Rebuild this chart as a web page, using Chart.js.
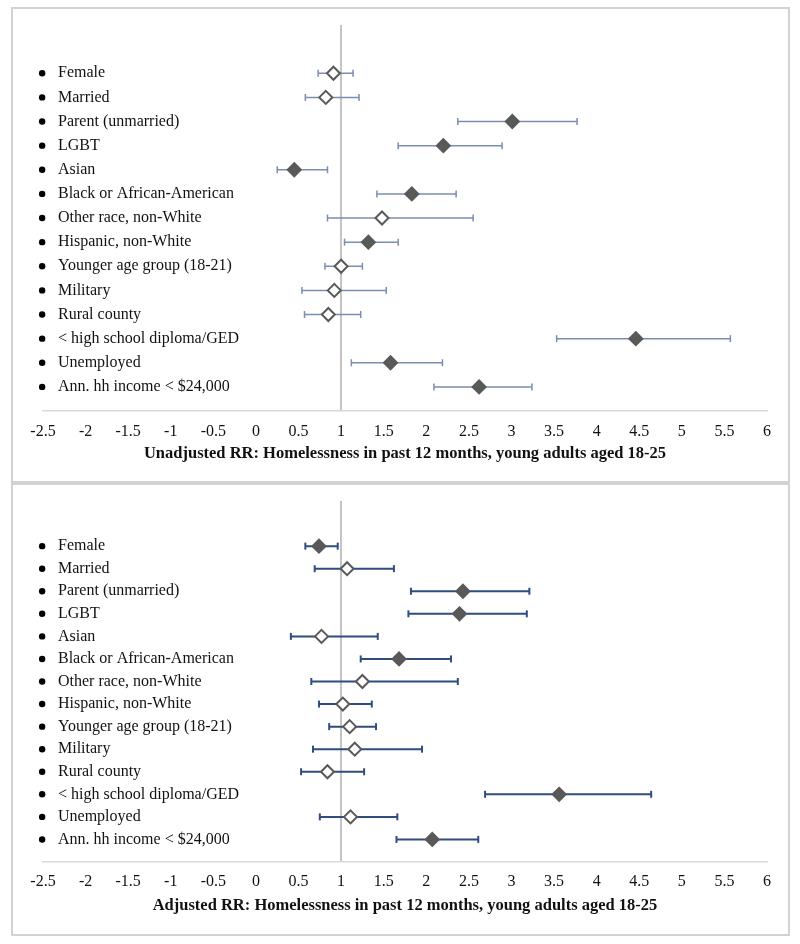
<!DOCTYPE html>
<html>
<head>
<meta charset="utf-8">
<script src="https://cdn.jsdelivr.net/npm/chart.js@4.4.1/dist/chart.umd.min.js"></script>
<style>
  body { margin: 0; background: #fff; }
  .box { position: absolute; left: 11px; width: 779px; box-sizing: border-box; border: 2px solid #d2d2d2; }
  canvas { position: absolute; left: 13px; }
</style>
</head>
<body>
<div class="box" style="top:7px;height:476px"></div>
<div class="box" style="top:483px;height:453px"></div>
<canvas id="unadjChart" style="top:9px" width="775" height="472"></canvas>
<canvas id="adjChart" style="top:485px" width="775" height="449"></canvas>
<script>
const categories = [
  "Female", "Married", "Parent (unmarried)", "LGBT", "Asian",
  "Black or African-American", "Other race, non-White", "Hispanic, non-White",
  "Younger age group (18-21)", "Military", "Rural county",
  "< high school diploma/GED", "Unemployed", "Ann. hh income < $24,000"
];

const xTicks = [-2.5, -2, -1.5, -1, -0.5, 0, 0.5, 1, 1.5, 2, 2.5, 3, 3.5, 4, 4.5, 5, 5.5, 6];

// unadjusted risk ratios with 95% CI, 1 = significant (filled diamond)
const unadjRR  = [0.91, 0.82, 3.01, 2.20, 0.45, 1.83, 1.48, 1.32, 1.00, 0.92, 0.85, 4.46, 1.58, 2.62];
const unadjLo  = [0.73, 0.58, 2.37, 1.67, 0.25, 1.42, 0.84, 1.04, 0.81, 0.54, 0.57, 3.53, 1.12, 2.09];
const unadjHi  = [1.14, 1.21, 3.77, 2.89, 0.84, 2.35, 2.55, 1.67, 1.25, 1.53, 1.23, 5.57, 2.19, 3.24];
const unadjSig = [0, 0, 1, 1, 1, 1, 0, 1, 0, 0, 0, 1, 1, 1];

// adjusted
const adjRR  = [0.74, 1.07, 2.43, 2.39, 0.77, 1.68, 1.25, 1.02, 1.10, 1.16, 0.84, 3.56, 1.11, 2.07];
const adjLo  = [0.58, 0.69, 1.82, 1.79, 0.41, 1.23, 0.65, 0.74, 0.86, 0.67, 0.53, 2.69, 0.75, 1.65];
const adjHi  = [0.96, 1.62, 3.21, 3.18, 1.43, 2.29, 2.37, 1.36, 1.41, 1.95, 1.27, 4.64, 1.66, 2.61];
const adjSig = [1, 0, 1, 1, 0, 1, 0, 0, 0, 0, 0, 1, 0, 1];

const FONT = "'Liberation Serif', 'Times New Roman', serif";
const MARK = "#595959";

function makeChart(canvasId, rr, lo, hi, sig, title, cfg) {
  // whisker segments, broken by nulls
  const whiskers = [];
  lo.forEach((v, i) => {
    whiskers.push({ x: v, y: i }, { x: hi[i], y: i }, { x: null, y: null });
  });

  new Chart(document.getElementById(canvasId), {
    type: "scatter",
    data: {
      datasets: [
        {
          label: "RR",
          data: rr.map((v, i) => ({ x: v, y: i })),
          pointStyle: "rectRot",
          pointRadius: 6.5,
          pointBorderWidth: 2,
          pointBorderColor: MARK,
          pointBackgroundColor: sig.map(s => s ? MARK : "#ffffff"),
          order: 0
        },
        {
          label: "95% CI",
          data: whiskers,
          showLine: true,
          spanGaps: false,
          borderColor: cfg.ciColor,
          borderWidth: cfg.ciWidth,
          pointStyle: "line",
          rotation: 90,
          pointRadius: 3.5,
          pointBorderColor: cfg.ciColor,
          pointBorderWidth: cfg.ciWidth,
          order: 1
        },
        {
          // bullet in front of each label
          label: "bullets",
          indexAxis: "y",
          data: categories.map((_, i) => ({ x: -2.51, y: i })),
          pointStyle: "circle",
          pointRadius: 3.2,
          pointBackgroundColor: "#000",
          pointBorderWidth: 0,
          clip: false,
          order: 2
        }
      ]
    },
    options: {
      responsive: false,
      animation: false,
      layout: { padding: { left: 0, right: 21, top: 16, bottom: cfg.padBottom } },
      plugins: { legend: { display: false }, tooltip: { enabled: false } },
      scales: {
        x: {
          type: "linear",
          min: -2.5,
          max: 6,
          afterBuildTicks: axis => { axis.ticks = xTicks.map(v => ({ value: v })); },
          afterFit: axis => { axis.paddingLeft = 0; axis.paddingRight = 0; },
          grid: {
            drawTicks: false,
            lineWidth: 2,
            color: ctx => (ctx.tick && ctx.tick.value === 1 ? "#c4c4c4" : "rgba(0,0,0,0)")
          },
          border: { display: true, color: "#d9d9d9", width: 1.5 },
          ticks: {
            padding: cfg.tickPad,
            color: "#111",
            font: { family: FONT, size: 16 },
            maxRotation: 0,
            autoSkip: false,
            callback: v => String(v)
          },
          title: {
            display: true,
            text: title,
            color: "#111",
            padding: { top: cfg.titlePad, bottom: 0 },
            font: { family: FONT, size: 16.5, weight: "bold" }
          }
        },
        y: {
          type: "linear",
          reverse: true,
          min: -2,
          max: 14,
          afterFit: axis => { axis.paddingTop = 0; axis.paddingBottom = 0; },
          grid: { display: false, drawTicks: false },
          border: { display: false },
          ticks: {
            mirror: true,
            padding: 15,
            stepSize: 1,
            maxTicksLimit: 20,
            autoSkip: false,
            color: "#111",
            font: { family: FONT, size: 16 },
            callback: v => categories[v] || ""
          }
        }
      }
    }
  });
}

makeChart("unadjChart", unadjRR, unadjLo, unadjHi, unadjSig,
  "Unadjusted RR: Homelessness in past 12 months, young adults aged 18-25",
  { ciColor: "#7b8db0", ciWidth: 1.5, tickPad: 11, titlePad: -8, padBottom: 17 });

makeChart("adjChart", adjRR, adjLo, adjHi, adjSig,
  "Adjusted RR: Homelessness in past 12 months, young adults aged 18-25",
  { ciColor: "#2f4d80", ciWidth: 2, tickPad: 10, titlePad: -5, padBottom: 18 });
</script>
</body>
</html>
